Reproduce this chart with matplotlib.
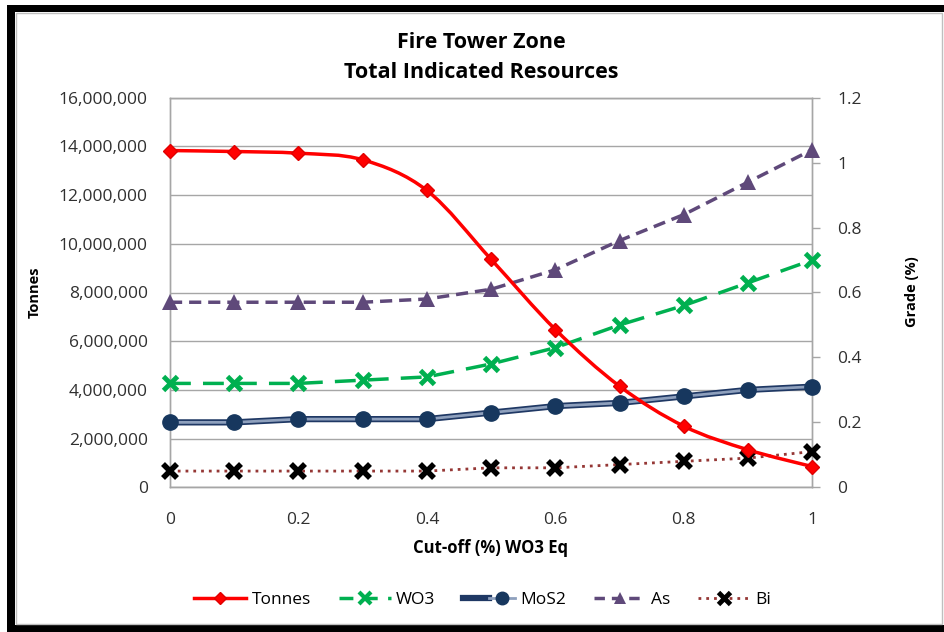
import matplotlib
matplotlib.use('Agg')
import matplotlib.pyplot as plt
from matplotlib.path import Path
from matplotlib.patches import PathPatch, Rectangle
from matplotlib.lines import Line2D
from matplotlib.legend_handler import HandlerTuple
from matplotlib.ticker import FuncFormatter, MultipleLocator
import numpy as np

plt.rcParams['font.family'] = ['Open Sans', 'DejaVu Sans']

# data
cutoff = [0, 0.1, 0.2, 0.3, 0.4, 0.5, 0.6, 0.7, 0.8, 0.9, 1.0]
tonnes = [13830000, 13790000, 13720000, 13450000, 12190000, 9360000,
          6480000, 4150000, 2510000, 1540000, 850000]
wo3 = [0.32, 0.32, 0.32, 0.33, 0.34, 0.38, 0.43, 0.50, 0.56, 0.63, 0.70]
mos2 = [0.20, 0.20, 0.21, 0.21, 0.21, 0.23, 0.25, 0.26, 0.28, 0.30, 0.31]
arsenic = [0.57, 0.57, 0.57, 0.57, 0.58, 0.61, 0.67, 0.76, 0.84, 0.94, 1.04]
bismuth = [0.05, 0.05, 0.05, 0.05, 0.05, 0.06, 0.06, 0.07, 0.08, 0.09, 0.11]

title_lines = ['Fire Tower Zone', 'Total Indicated Resources']
labels = ['Tonnes', 'WO3', 'MoS2', 'As', 'Bi']

TMAX = 16000000
GMAX = 1.2


def smooth_path(x, y):
    # excel style smoothed line: cubic bezier through every point
    pts = np.column_stack([x, y]).astype(float)
    n = len(pts)
    verts = [pts[0]]
    codes = [Path.MOVETO]
    for i in range(n - 1):
        p0 = pts[i - 1] if i > 0 else pts[i]
        p1 = pts[i]
        p2 = pts[i + 1]
        p3 = pts[i + 2] if i + 2 < n else pts[i + 1]
        c1 = p1 + (p2 - p0) / 6.0
        c2 = p2 - (p3 - p1) / 6.0
        verts += [c1, c2, p2]
        codes += [Path.CURVE4] * 3
    return Path(verts, codes)


fig = plt.figure(figsize=(9.45, 6.32), dpi=100)

# black frame round the chart (left, top, bottom thick; right thin)
def frame_rect(x0, y0, w, h, **kw):
    fig.patches.append(Rectangle((x0 / 945, y0 / 632), w / 945, h / 632,
                                 transform=fig.transFigure, **kw))

frame_rect(7, 0, 8, 627, facecolor='black', edgecolor='none')
frame_rect(7, 620, 945, 7, facecolor='black', edgecolor='none')
frame_rect(7, 0, 945, 7, facecolor='black', edgecolor='none')
frame_rect(16, 8, 926, 611, facecolor='none', edgecolor='#bfbfbf', linewidth=1)

ax = fig.add_axes([170 / 945, 1 - 487.3 / 632, 642.3 / 945, 389.6 / 632])
ax2 = ax.twinx()

ax.set_xlim(0, 1)
ax.set_ylim(0, TMAX)
ax2.set_ylim(0, GMAX)

ax.yaxis.set_major_locator(MultipleLocator(2000000))
ax.yaxis.set_major_formatter(FuncFormatter(lambda v, p: f'{int(v):,}'))
ax.xaxis.set_major_locator(MultipleLocator(0.2))
ax.xaxis.set_major_formatter(FuncFormatter(lambda v, p: f'{v:g}'))
ax2.yaxis.set_major_locator(MultipleLocator(0.2))
ax2.yaxis.set_major_formatter(FuncFormatter(lambda v, p: f'{v:g}'))

ax.grid(axis='y', color='#a6a6a6', linewidth=1)
ax.set_axisbelow(True)
for a in (ax, ax2):
    for s in a.spines.values():
        s.set_color('#a6a6a6')
        s.set_linewidth(1)
ax.tick_params(axis='y', length=0, pad=16, labelsize=12.5, labelcolor='#303030')
ax.tick_params(axis='x', length=0, pad=18, labelsize=12.5, labelcolor='#303030')
ax2.tick_params(axis='y', length=6, width=1, color='#a6a6a6', pad=12, labelsize=12.5,
                labelcolor='#303030')

# grade series on the right axis
ax2.plot(cutoff, wo3, color='#00b050', linewidth=2.5, dashes=(6, 3.5),
         marker='x', markersize=10, markeredgewidth=3.5, clip_on=False, zorder=3)
ax2.plot(cutoff, mos2, color='#1f3864', linewidth=4.5, solid_capstyle='butt', zorder=3)
ax2.plot(cutoff, mos2, color='#8ea0bd', linewidth=2, marker='o', markersize=11,
         markerfacecolor='#17375e', markeredgecolor='#17375e', clip_on=False, zorder=3)
ax2.plot(cutoff, arsenic, color='#5f497a', linewidth=2.5, dashes=(3.5, 2),
         marker='^', markersize=11, markeredgewidth=0, clip_on=False, zorder=3)
ax2.plot(cutoff, bismuth, color='#953735', linewidth=2, linestyle=(0, (1, 1.8)),
         marker='x', markersize=10, markeredgecolor='black', markeredgewidth=4,
         clip_on=False, zorder=3)

# tonnes: smoothed red line, drawn last so it sits on top
tonnes_scaled = np.array(tonnes) / TMAX * GMAX
ax2.add_patch(PathPatch(smooth_path(cutoff, tonnes_scaled),
                        facecolor='none', edgecolor='#ff0000', linewidth=2.5,
                        clip_on=False, zorder=4))
ax2.plot(cutoff, tonnes_scaled, linestyle='none', marker='D',
         markersize=7.5, markerfacecolor='#ff0000', markeredgecolor='#e00000',
         clip_on=False, zorder=5)

fig.text(35 / 945, 1 - 292 / 632, 'Tonnes', rotation=90, fontsize=10.5, fontweight='bold',
         ha='center', va='center')
fig.text(912 / 945, 1 - 292 / 632, 'Grade (%)', rotation=90, fontsize=10.5, fontweight='bold',
         ha='center', va='center')
fig.text(491 / 945, 1 - 548 / 632, 'Cut-off (%) WO3 Eq', fontsize=12, fontweight='bold',
         ha='center', va='center')
fig.text(481 / 945, 1 - 43 / 632, title_lines[0], fontsize=15.5, fontweight='bold',
         ha='center', va='center')
fig.text(481 / 945, 1 - 72 / 632, title_lines[1], fontsize=15.5, fontweight='bold',
         ha='center', va='center')

handles = [
    Line2D([], [], color='#ff0000', linewidth=2.5, marker='D', markersize=6,
           markerfacecolor='#ff0000', markeredgecolor='#e00000'),
    Line2D([], [], color='#00b050', linewidth=2.5, dashes=(4, 3), marker='x',
           markersize=9, markeredgewidth=3),
    (Line2D([], [], color='#1f3864', linewidth=4.5),
     Line2D([], [], color='#8ea0bd', linewidth=2, marker='o', markersize=9,
            markerfacecolor='#17375e', markeredgecolor='#17375e')),
    Line2D([], [], color='#5f497a', linewidth=2.5, dashes=(3, 2), marker='^',
           markersize=9, markeredgewidth=0),
    Line2D([], [], color='#953735', linewidth=2, linestyle=(0, (1, 1.8)), marker='x',
           markersize=8, markeredgecolor='black', markeredgewidth=3.5),
]
fig.legend(handles, labels, loc='center', bbox_to_anchor=(483 / 945, 1 - 600 / 632),
           ncol=5, frameon=False, fontsize=12.5, handlelength=3.0, columnspacing=1.6,
           handletextpad=0.3, handler_map={tuple: HandlerTuple(ndivide=None, pad=0)})

fig.savefig('out.png', dpi=100)
